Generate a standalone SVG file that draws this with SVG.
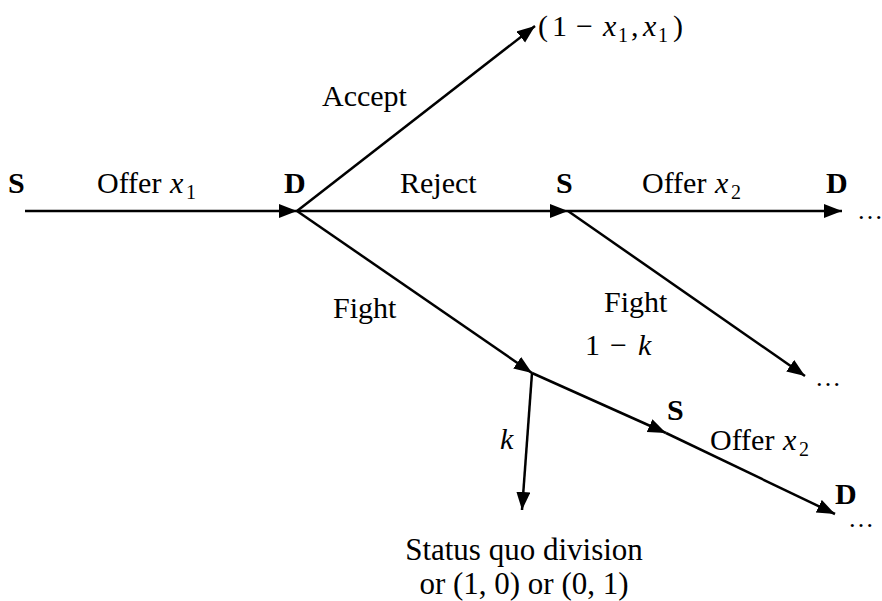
<svg xmlns="http://www.w3.org/2000/svg" width="882" height="601" viewBox="0 0 882 601">
<style>
text{font-family:"Liberation Serif","Times New Roman",serif;font-size:30px;fill:#000}
.b{font-weight:bold}
.m{font-style:italic}
.sub{font-size:20px;font-style:normal}
.dots{font-size:26px}
.big{font-size:31px}
.e{stroke:#000;stroke-width:2.5;fill:none;marker-end:url(#ah)}
</style>
<defs>
<marker id="ah" markerUnits="userSpaceOnUse" markerWidth="20" markerHeight="16" refX="18" refY="7" orient="auto">
<path d="M0,0 L18,7 L0,14 z" fill="#000"/>
</marker>
</defs>
<rect width="882" height="601" fill="#fff"/>
<g id="connectors">
<line class="e" x1="25" y1="211" x2="297" y2="211"/>
<line class="e" x1="297" y1="211" x2="535" y2="26"/>
<line class="e" x1="297" y1="211" x2="568" y2="211"/>
<line class="e" x1="568" y1="211" x2="842" y2="211"/>
<line class="e" x1="297" y1="211" x2="532" y2="373"/>
<line class="e" x1="568" y1="211" x2="805" y2="376"/>
<line class="e" x1="532" y1="373" x2="666" y2="433"/>
<line class="e" x1="666" y1="433" x2="835" y2="514"/>
<line class="e" x1="532" y1="373" x2="522" y2="510"/>
</g>
<g id="node-s1"><text class="b" x="8" y="193">S</text></g>
<g id="label-offer1"><text x="97" y="193">Offer <tspan class="m" x="170">x</tspan><tspan class="sub" x="186" dy="6">1</tspan></text></g>
<g id="node-d1"><text class="b" x="284" y="193">D</text></g>
<g id="label-accept"><text x="322" y="106">Accept</text></g>
<g id="node-payoff1"><text x="538" y="36">(<tspan x="552">1</tspan><tspan x="576">−</tspan><tspan class="m" x="603">x</tspan><tspan class="sub" x="618" dy="6">1</tspan><tspan x="631" dy="-6">,</tspan><tspan class="m" x="643">x</tspan><tspan class="sub" x="658" dy="6">1</tspan><tspan x="673" dy="-6">)</tspan></text></g>
<g id="label-reject"><text x="400" y="193">Reject</text></g>
<g id="node-s2"><text class="b" x="556" y="193">S</text></g>
<g id="label-offer2"><text x="642" y="193">Offer <tspan class="m" x="715">x</tspan><tspan class="sub" x="731" dy="6">2</tspan></text></g>
<g id="node-d2"><text class="b" x="826" y="193">D</text></g>
<g id="node-cont1"><text class="dots" x="857" y="219">…</text></g>
<g id="label-fight1"><text x="333" y="318">Fight</text></g>
<g id="label-fight2"><text x="604" y="312">Fight</text></g>
<g id="node-cont2"><text class="dots" x="815" y="386">…</text></g>
<g id="label-1mk"><text x="585" y="355">1<tspan x="610">−</tspan><tspan class="m" x="638">k</tspan></text></g>
<g id="label-k"><text class="m" x="500" y="449">k</text></g>
<g id="node-s3"><text class="b" x="667" y="420">S</text></g>
<g id="label-offer3"><text x="710" y="450">Offer <tspan class="m" x="783">x</tspan><tspan class="sub" x="799" dy="6">2</tspan></text></g>
<g id="node-d3"><text class="b" x="835" y="504">D</text></g>
<g id="node-cont3"><text class="dots" x="848" y="527">…</text></g>
<g id="node-status"><text class="big" x="524" y="560" text-anchor="middle">Status quo division</text><text class="big" x="524" y="594" text-anchor="middle">or (1, 0) or (0, 1)</text></g>
</svg>
